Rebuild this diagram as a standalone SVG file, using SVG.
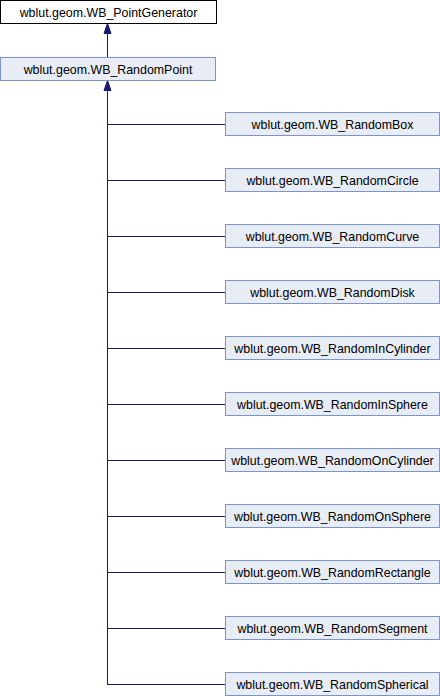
<svg xmlns="http://www.w3.org/2000/svg" width="440" height="696" viewBox="0 0 440 696">
<defs>
<style>
.n rect{fill:#e8ecf5;stroke:#7b95c8;stroke-width:1}
.n text{font-family:"Liberation Sans",Arial,sans-serif;font-size:12.4px;fill:#000;text-anchor:middle}
#edges path{fill:none;stroke:#191970;stroke-width:1}
</style>
<marker id="ah" viewBox="0 0 10 10" refX="10" refY="5" markerWidth="10" markerHeight="10" markerUnits="userSpaceOnUse" orient="auto"><path d="M0,1.5 L10,5 L0,8.5 Z" fill="#191970" stroke="#191970" stroke-width="1"/></marker>
</defs>
<rect width="440" height="696" fill="#fff"/>
<g id="edges">
<path d="M107.5,57 V23.5" marker-end="url(#ah)"/>
<path d="M107.5,684.5 V80.5" marker-end="url(#ah)"/>
<path d="M107,124.5 H225"/>
<path d="M107,180.5 H225"/>
<path d="M107,236.5 H225"/>
<path d="M107,292.5 H225"/>
<path d="M107,348.5 H225"/>
<path d="M107,404.5 H225"/>
<path d="M107,460.5 H225"/>
<path d="M107,516.5 H225"/>
<path d="M107,572.5 H225"/>
<path d="M107,628.5 H225"/>
<path d="M107,684.5 H225"/>
</g>
<g id="PointGenerator" class="n"><rect x="0.5" y="0.5" width="216" height="23" style="fill:#fff;stroke:#000"/><text x="108.5" y="16.5">wblut.geom.WB_PointGenerator</text></g>
<g id="RandomPoint" class="n"><rect x="0.5" y="57.5" width="215" height="23"/><text x="108" y="73.5">wblut.geom.WB_RandomPoint</text></g>
<g id="RandomBox" class="n"><rect x="225.5" y="112.5" width="214" height="23"/><text x="332.5" y="128.5">wblut.geom.WB_RandomBox</text></g>
<g id="RandomCircle" class="n"><rect x="225.5" y="168.5" width="214" height="23"/><text x="332.5" y="184.5">wblut.geom.WB_RandomCircle</text></g>
<g id="RandomCurve" class="n"><rect x="225.5" y="224.5" width="214" height="23"/><text x="332.5" y="240.5">wblut.geom.WB_RandomCurve</text></g>
<g id="RandomDisk" class="n"><rect x="225.5" y="280.5" width="214" height="23"/><text x="332.5" y="296.5">wblut.geom.WB_RandomDisk</text></g>
<g id="RandomInCylinder" class="n"><rect x="225.5" y="336.5" width="214" height="23"/><text x="332.5" y="352.5">wblut.geom.WB_RandomInCylinder</text></g>
<g id="RandomInSphere" class="n"><rect x="225.5" y="392.5" width="214" height="23"/><text x="332.5" y="408.5">wblut.geom.WB_RandomInSphere</text></g>
<g id="RandomOnCylinder" class="n"><rect x="225.5" y="448.5" width="214" height="23"/><text x="332.5" y="464.5">wblut.geom.WB_RandomOnCylinder</text></g>
<g id="RandomOnSphere" class="n"><rect x="225.5" y="504.5" width="214" height="23"/><text x="332.5" y="520.5">wblut.geom.WB_RandomOnSphere</text></g>
<g id="RandomRectangle" class="n"><rect x="225.5" y="560.5" width="214" height="23"/><text x="332.5" y="576.5">wblut.geom.WB_RandomRectangle</text></g>
<g id="RandomSegment" class="n"><rect x="225.5" y="616.5" width="214" height="23"/><text x="332.5" y="632.5">wblut.geom.WB_RandomSegment</text></g>
<g id="RandomSpherical" class="n"><rect x="225.5" y="672.5" width="214" height="23"/><text x="332.5" y="688.5">wblut.geom.WB_RandomSpherical</text></g>
</svg>
